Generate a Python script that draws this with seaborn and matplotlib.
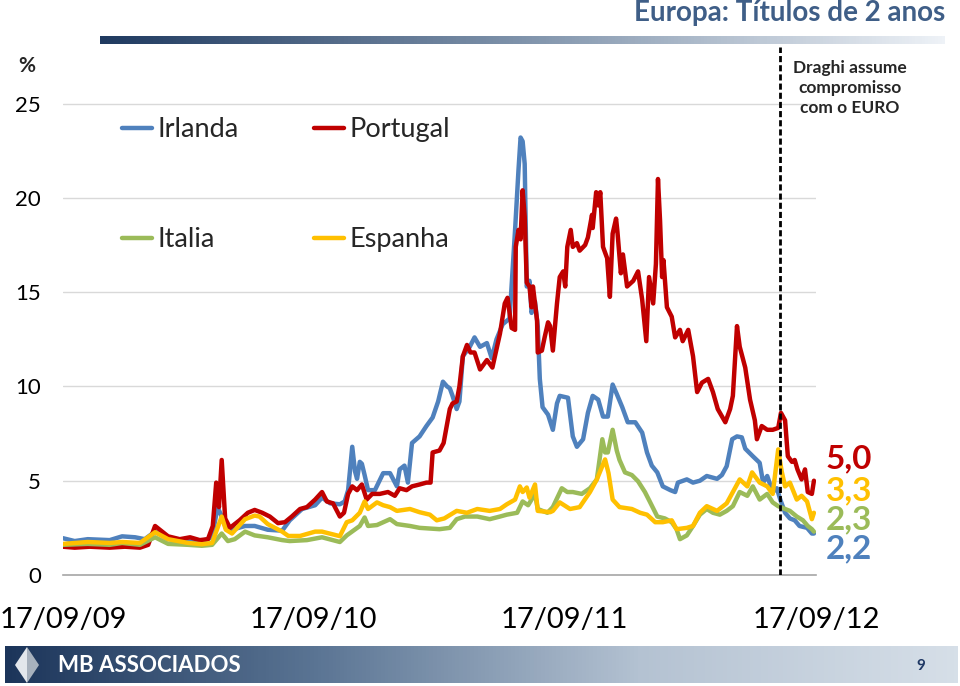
import numpy as np
import pandas as pd
import matplotlib.pyplot as plt
from matplotlib.colors import LinearSegmentedColormap
from matplotlib.lines import Line2D
from matplotlib.patches import Polygon
import seaborn as sns

# =========================
# Data (2-year yields, %)
# =========================
irlanda_dates = [
    "2009-09-17", "2009-10-04", "2009-10-23", "2009-11-24", "2009-12-12", "2009-12-31",
    "2010-01-14", "2010-01-29", "2010-02-17", "2010-03-18", "2010-04-04", "2010-04-22",
    "2010-04-30", "2010-05-06", "2010-05-12", "2010-05-21", "2010-06-09", "2010-06-23",
    "2010-07-12", "2010-08-02", "2010-08-13", "2010-08-31", "2010-09-19", "2010-09-29",
    "2010-10-11", "2010-10-25", "2010-11-01", "2010-11-06", "2010-11-12", "2010-11-16",
    "2010-11-19", "2010-11-23", "2010-11-26", "2010-11-30", "2010-12-05", "2010-12-15",
    "2010-12-27", "2011-01-06", "2011-01-16", "2011-01-20", "2011-01-27", "2011-02-01",
    "2011-02-07", "2011-02-18", "2011-02-28", "2011-03-09", "2011-03-17", "2011-03-24",
    "2011-03-30", "2011-04-03", "2011-04-07", "2011-04-13", "2011-04-17", "2011-04-22",
    "2011-05-02", "2011-05-09", "2011-05-17", "2011-05-27", "2011-06-03", "2011-06-10",
    "2011-06-19", "2011-06-29", "2011-07-07", "2011-07-12", "2011-07-15", "2011-07-18",
    "2011-07-21", "2011-07-24", "2011-07-28", "2011-07-31", "2011-08-05", "2011-08-09",
    "2011-08-12", "2011-08-16", "2011-08-24", "2011-08-31", "2011-09-06", "2011-09-10",
    "2011-09-22", "2011-09-29", "2011-10-05", "2011-10-14", "2011-10-21", "2011-10-28",
    "2011-11-05", "2011-11-12", "2011-11-19", "2011-11-26", "2011-12-02", "2011-12-10",
    "2011-12-18", "2011-12-29", "2012-01-08", "2012-01-15", "2012-01-22", "2012-01-30",
    "2012-02-07", "2012-02-18", "2012-02-25", "2012-02-29", "2012-03-13", "2012-03-22",
    "2012-04-01", "2012-04-11", "2012-04-26", "2012-05-03", "2012-05-10", "2012-05-18",
    "2012-05-25", "2012-06-01", "2012-06-06", "2012-06-17", "2012-06-27", "2012-07-02",
    "2012-07-08", "2012-07-16", "2012-07-22", "2012-07-27", "2012-08-03", "2012-08-10",
    "2012-08-17", "2012-08-24", "2012-09-04", "2012-09-11", "2012-09-14",
]
irlanda_vals = [
    1.95, 1.8, 1.9, 1.85, 2.05, 2.0,
    1.9, 2.3, 1.9, 1.8, 1.75, 2.0,
    3.6, 3.1, 2.5, 2.4, 2.6, 2.6,
    2.4, 2.35, 2.9, 3.5, 3.7, 4.1,
    3.8, 3.75, 3.9, 4.5, 6.8, 5.5,
    5.1, 6.0, 5.9, 5.3, 4.5, 4.5,
    5.4, 5.4, 4.7, 5.6, 5.8, 4.9,
    7.0, 7.35, 7.9, 8.35, 9.2, 10.25,
    10.0, 9.9, 9.5, 8.8, 9.2, 11.6,
    12.1, 12.6, 12.1, 12.3, 11.5, 12.5,
    13.3, 13.6, 18.3, 21.5, 23.2, 23.0,
    21.8, 15.3, 15.6, 13.9, 14.5, 13.2,
    10.4, 8.9, 8.5, 7.7, 9.1, 9.5,
    9.4, 7.35, 6.8, 7.2, 8.6, 9.5,
    9.3, 8.4, 8.4, 10.1, 9.6, 8.9,
    8.1, 8.1, 7.55, 6.5, 5.8, 5.44,
    4.7, 4.5, 4.4, 4.9, 5.07, 4.9,
    5.0, 5.25, 5.1, 5.3, 5.77, 7.2,
    7.35, 7.3, 6.7, 6.3, 5.95, 4.9,
    5.25, 4.4, 4.6, 4.0, 3.3, 3.0,
    2.9, 2.6, 2.5, 2.2, 2.2,
]

portugal_dates = [
    "2009-09-17", "2009-10-04", "2009-10-26", "2009-11-24", "2009-12-16", "2010-01-07",
    "2010-01-19", "2010-01-29", "2010-02-05", "2010-02-17", "2010-03-06", "2010-03-21",
    "2010-04-04", "2010-04-16", "2010-04-23", "2010-04-28", "2010-05-02", "2010-05-06",
    "2010-05-11", "2010-05-18", "2010-06-01", "2010-06-13", "2010-06-23", "2010-07-04",
    "2010-07-15", "2010-07-27", "2010-08-06", "2010-08-16", "2010-08-28", "2010-09-07",
    "2010-09-19", "2010-09-29", "2010-10-06", "2010-10-15", "2010-10-25", "2010-10-31",
    "2010-11-06", "2010-11-12", "2010-11-19", "2010-11-26", "2010-12-03", "2010-12-11",
    "2010-12-22", "2011-01-03", "2011-01-13", "2011-01-20", "2011-01-30", "2011-02-07",
    "2011-02-18", "2011-02-28", "2011-03-06", "2011-03-09", "2011-03-19", "2011-03-25",
    "2011-03-30", "2011-04-03", "2011-04-07", "2011-04-13", "2011-04-17", "2011-04-22",
    "2011-04-28", "2011-05-03", "2011-05-09", "2011-05-17", "2011-05-27", "2011-06-04",
    "2011-06-15", "2011-06-22", "2011-06-26", "2011-07-02", "2011-07-07", "2011-07-08",
    "2011-07-12", "2011-07-15", "2011-07-18", "2011-07-21", "2011-07-24", "2011-07-28",
    "2011-07-31", "2011-08-02", "2011-08-08", "2011-08-09", "2011-08-15", "2011-08-19",
    "2011-08-24", "2011-08-27", "2011-08-31", "2011-09-06", "2011-09-10", "2011-09-15",
    "2011-09-18", "2011-09-21", "2011-09-26", "2011-09-29", "2011-10-05", "2011-10-09",
    "2011-10-17", "2011-10-21", "2011-10-27", "2011-10-28", "2011-11-02", "2011-11-05",
    "2011-11-08", "2011-11-12", "2011-11-18", "2011-11-22", "2011-11-26", "2011-12-01",
    "2011-12-03", "2011-12-08", "2011-12-11", "2011-12-17", "2011-12-26", "2012-01-02",
    "2012-01-08", "2012-01-14", "2012-01-18", "2012-01-24", "2012-01-28", "2012-01-31",
    "2012-02-03", "2012-02-06", "2012-02-08", "2012-02-13", "2012-02-20", "2012-02-25",
    "2012-03-03", "2012-03-07", "2012-03-15", "2012-03-22", "2012-03-28", "2012-04-04",
    "2012-04-13", "2012-04-20", "2012-04-27", "2012-05-08", "2012-05-15", "2012-05-19",
    "2012-05-25", "2012-05-29", "2012-06-06", "2012-06-13", "2012-06-20", "2012-06-23",
    "2012-06-30", "2012-07-08", "2012-07-16", "2012-07-24", "2012-07-28", "2012-08-03",
    "2012-08-07", "2012-08-13", "2012-08-17", "2012-08-21", "2012-08-27", "2012-09-01",
    "2012-09-05", "2012-09-11", "2012-09-14",
]
portugal_vals = [
    1.5, 1.45, 1.5, 1.45, 1.5, 1.45,
    1.6, 2.6, 2.4, 2.05, 1.9, 2.0,
    1.85, 1.9, 2.6, 4.9, 3.6, 6.1,
    3.0, 2.5, 2.9, 3.3, 3.45, 3.3,
    3.1, 2.75, 2.8, 3.1, 3.5, 3.6,
    4.0, 4.4, 3.9, 3.8, 3.1, 3.3,
    4.3, 4.7, 4.5, 4.8, 4.0, 4.3,
    4.3, 4.4, 4.2, 4.6, 4.5, 4.7,
    4.8, 4.9, 4.9, 6.5, 6.6, 7.0,
    8.0, 8.8, 9.1, 9.2, 10.0, 11.6,
    12.2, 11.8, 11.8, 10.9, 11.4, 11.0,
    12.8, 14.4, 14.7, 13.1, 13.0, 17.4,
    18.3, 17.8, 20.4, 19.0, 15.5, 15.3,
    14.2, 15.3, 13.5, 11.8, 11.9, 12.6,
    13.4, 13.2, 11.9, 14.4, 15.8, 16.1,
    15.3, 17.4, 18.3, 17.4, 17.6, 17.2,
    17.5, 17.9, 19.1, 18.4, 20.3, 19.6,
    20.3, 17.4, 16.8, 14.75, 18.1, 18.9,
    18.2, 16.0, 17.0, 15.3, 15.6, 16.1,
    14.6, 12.4, 15.8, 14.4, 16.5, 21.0,
    18.8, 15.8, 16.7, 14.2, 13.7, 12.6,
    13.0, 12.4, 13.0, 11.6, 9.7, 10.2,
    10.4, 9.7, 8.8, 8.1, 8.8, 9.5,
    13.2, 12.1, 11.0, 9.3, 8.2, 7.2,
    7.9, 7.7, 7.7, 7.8, 8.6, 8.2,
    6.3, 6.0, 6.1, 5.6, 5.07, 5.6,
    4.4, 4.3, 5.0,
]

italia_dates = [
    "2009-09-17", "2009-10-23", "2009-11-24", "2009-12-12", "2010-01-07", "2010-01-29",
    "2010-02-17", "2010-03-18", "2010-04-07", "2010-04-22", "2010-05-06", "2010-05-15",
    "2010-05-25", "2010-06-09", "2010-06-23", "2010-07-12", "2010-08-02", "2010-08-13",
    "2010-09-07", "2010-09-29", "2010-10-25", "2010-11-04", "2010-11-23", "2010-11-30",
    "2010-12-05", "2010-12-18", "2011-01-06", "2011-01-16", "2011-02-04", "2011-02-18",
    "2011-03-19", "2011-04-03", "2011-04-13", "2011-04-25", "2011-05-13", "2011-05-31",
    "2011-06-15", "2011-06-25", "2011-07-10", "2011-07-18", "2011-07-26", "2011-08-05",
    "2011-08-09", "2011-08-23", "2011-08-31", "2011-09-13", "2011-09-21", "2011-09-29",
    "2011-10-12", "2011-10-24", "2011-11-03", "2011-11-11", "2011-11-15", "2011-11-19",
    "2011-11-26", "2011-12-02", "2011-12-06", "2011-12-14", "2011-12-24", "2012-01-02",
    "2012-01-12", "2012-01-19", "2012-01-30", "2012-02-10", "2012-02-20", "2012-02-27",
    "2012-03-03", "2012-03-13", "2012-03-22", "2012-04-01", "2012-04-11", "2012-04-20",
    "2012-04-30", "2012-05-10", "2012-05-19", "2012-05-29", "2012-06-09", "2012-06-17",
    "2012-06-27", "2012-07-08", "2012-07-16", "2012-07-24", "2012-08-03", "2012-08-10",
    "2012-08-20", "2012-08-29", "2012-09-05", "2012-09-11", "2012-09-14",
]
italia_vals = [
    1.6, 1.65, 1.6, 1.7, 1.6, 2.0,
    1.65, 1.6, 1.55, 1.6, 2.2, 1.8,
    1.9, 2.3, 2.1, 2.0, 1.85, 1.8,
    1.85, 2.0, 1.75, 2.1, 2.6, 3.05,
    2.6, 2.65, 2.96, 2.7, 2.6, 2.5,
    2.43, 2.5, 2.96, 3.1, 3.1, 2.96,
    3.1, 3.2, 3.3, 3.9, 3.7, 4.3,
    3.5, 3.3, 3.6, 4.6, 4.4, 4.4,
    4.3, 4.6, 5.07, 7.2, 6.5, 6.5,
    7.7, 6.6, 6.1, 5.44, 5.3, 4.97,
    4.4, 3.9, 3.1, 3.0, 2.8, 2.43,
    1.9, 2.1, 2.6, 3.2, 3.5, 3.3,
    3.2, 3.4, 3.65, 4.4, 4.2, 4.7,
    4.0, 4.3, 3.85, 3.65, 3.5, 3.4,
    3.1, 2.9, 2.6, 2.43, 2.3,
]

espanha_dates = [
    "2009-09-17", "2009-10-23", "2009-11-24", "2009-12-12", "2010-01-07", "2010-01-29",
    "2010-02-17", "2010-03-18", "2010-04-07", "2010-04-22", "2010-04-30", "2010-05-06",
    "2010-05-12", "2010-05-21", "2010-06-09", "2010-06-23", "2010-06-30", "2010-07-12",
    "2010-08-02", "2010-08-11", "2010-08-28", "2010-09-19", "2010-09-29", "2010-10-25",
    "2010-11-04", "2010-11-12", "2010-11-23", "2010-11-30", "2010-12-05", "2010-12-18",
    "2010-12-27", "2011-01-06", "2011-01-16", "2011-02-04", "2011-02-18", "2011-03-05",
    "2011-03-15", "2011-03-26", "2011-04-13", "2011-04-28", "2011-05-13", "2011-05-31",
    "2011-06-15", "2011-06-25", "2011-07-07", "2011-07-14", "2011-07-18", "2011-07-24",
    "2011-07-28", "2011-08-05", "2011-08-09", "2011-08-27", "2011-08-31", "2011-09-10",
    "2011-09-25", "2011-10-09", "2011-10-24", "2011-11-03", "2011-11-15", "2011-11-20",
    "2011-11-26", "2011-12-06", "2011-12-24", "2012-01-05", "2012-01-15", "2012-01-27",
    "2012-02-07", "2012-02-20", "2012-02-27", "2012-03-13", "2012-03-22", "2012-04-01",
    "2012-04-11", "2012-04-26", "2012-05-10", "2012-05-19", "2012-05-29", "2012-06-09",
    "2012-06-16", "2012-06-27", "2012-07-08", "2012-07-16", "2012-07-24", "2012-07-29",
    "2012-08-03", "2012-08-10", "2012-08-20", "2012-08-27", "2012-09-04", "2012-09-11",
    "2012-09-14",
]
espanha_vals = [
    1.65, 1.75, 1.7, 1.75, 1.7, 2.27,
    1.9, 1.7, 1.63, 1.7, 2.5, 3.1,
    2.4, 2.2, 2.96, 3.15, 3.1, 2.7,
    2.3, 2.07, 2.07, 2.3, 2.3, 2.06,
    2.8, 2.9, 3.3, 3.9, 3.5, 3.85,
    3.7, 3.6, 3.4, 3.5, 3.33, 3.2,
    2.9, 3.0, 3.4, 3.3, 3.5, 3.4,
    3.5, 3.75, 4.0, 4.7, 4.4, 4.64,
    4.1, 4.8, 3.4, 3.33, 3.4, 3.85,
    3.5, 3.6, 4.4, 5.07, 6.13, 5.4,
    4.0, 3.6, 3.5, 3.3, 3.2, 2.8,
    2.8, 2.9, 2.43, 2.5, 2.6, 3.3,
    3.65, 3.4, 3.8, 4.4, 5.07, 4.7,
    5.44, 4.9, 4.7, 4.3, 6.66, 5.5,
    4.7, 4.9, 4.0, 4.2, 3.9, 2.96,
    3.3,
]

paises = ["Irlanda", "Portugal", "Italia", "Espanha"]
cores = ["#4F81BD", "#C00000", "#9BBB59", "#FFC000"]
x_ticks = ["2009-09-17", "2010-09-17", "2011-09-17", "2012-09-17"]
x_labels = ["17/09/09", "17/09/10", "17/09/11", "17/09/12"]
y_ticks = [0, 5, 10, 15, 20, 25]
draghi_date = "2012-07-26"

# =========================
# Long table for seaborn
# =========================
series = {
    "Irlanda": (irlanda_dates, irlanda_vals),
    "Portugal": (portugal_dates, portugal_vals),
    "Italia": (italia_dates, italia_vals),
    "Espanha": (espanha_dates, espanha_vals),
}
frames = []
for nome, (d, v) in series.items():
    frames.append(pd.DataFrame({"data": pd.to_datetime(d), "taxa": v, "pais": nome}))
df = pd.concat(frames, ignore_index=True)

sns.set_style("white")
plt.rcParams["font.family"] = ["Lato", "DejaVu Sans"]

W, H = 960, 686


def fx(px):
    return px / W


def fy(py):
    return 1 - py / H


fig = plt.figure(figsize=(9.6, 6.86), dpi=100)
ax = fig.add_axes([fx(63), fy(575), 753 / W, 528 / H])

sns.lineplot(
    data=df, x="data", y="taxa", hue="pais", hue_order=paises,
    palette=dict(zip(paises, cores)), linewidth=3.2, estimator=None,
    legend=False, ax=ax,
)

ax.set_xlim(pd.Timestamp(x_ticks[0]), pd.Timestamp(x_ticks[-1]))
ax.set_ylim(0, 28)
ax.set_yticks(y_ticks)
ax.set_yticklabels([str(t) for t in y_ticks])
ax.set_xticks(pd.to_datetime(x_ticks))
ax.set_xticklabels(x_labels)
ax.set_xlabel("")
ax.set_ylabel("")

for t in y_ticks[1:]:
    ax.axhline(t, color="#D9D9D9", linewidth=1, zorder=0)

for s in ["left", "right", "top"]:
    ax.spines[s].set_visible(False)
ax.spines["bottom"].set_color("#A6A6A6")
ax.spines["bottom"].set_linewidth(1.2)
ax.tick_params(axis="x", length=6, width=1.2, color="#A6A6A6", pad=17,
               labelsize=21, labelcolor="black")
ax.tick_params(axis="y", length=0, pad=16, labelsize=16, labelcolor="black")

# Draghi line
ax.axvline(pd.Timestamp(draghi_date), color="black", linewidth=2,
           linestyle=(0, (2.2, 1.1)), zorder=5)
fig.text(fx(850), fy(88), "Draghi assume\ncompromisso\ncom o EURO",
         ha="center", va="center", fontsize=12.5, fontweight="bold",
         linespacing=1.3)

fig.text(fx(27), fy(66), "%", ha="center", va="center", fontsize=15,
         fontweight="bold")

# Legend (2 x 2)
handles = {p: Line2D([], [], color=c, linewidth=3.2) for p, c in zip(paises, cores)}
ordem = ["Irlanda", "Italia", "Portugal", "Espanha"]
fig.legend(
    [handles[p] for p in ordem], ordem, ncol=2, frameon=False,
    loc="upper left", bbox_to_anchor=(fx(122), fy(117)),
    bbox_transform=fig.transFigure, borderpad=0, borderaxespad=0,
    fontsize=19.5, handlelength=1.1, handletextpad=0.2,
    columnspacing=2.8, labelspacing=3.15,
)

# End values
for (nome, (d, v)), ypx in zip(
    [("Portugal", series["Portugal"]), ("Espanha", series["Espanha"]),
     ("Italia", series["Italia"]), ("Irlanda", series["Irlanda"])],
    [459, 491, 520, 549],
):
    cor = cores[paises.index(nome)]
    fig.text(fx(826), fy(ypx), f"{v[-1]:.1f}".replace(".", ","), color=cor,
             ha="left", va="center", fontsize=24, fontweight="bold")

# Title and decoration
fig.text(fx(945), fy(13), "Europa: Títulos de 2 anos", ha="right", va="center",
         fontsize=20, fontweight="bold", color="#3F5E87")


def faixa(rect, cols):
    a = fig.add_axes(rect)
    cmap = LinearSegmentedColormap.from_list("faixa", cols)
    a.imshow(np.linspace(0, 1, 256)[None, :], aspect="auto", cmap=cmap,
             extent=[0, 1, 0, 1])
    a.axis("off")
    return a


faixa([fx(100), fy(44), 845 / W, 8 / H], ["#1F3A60", "#7F93AB", "#EEF2F7"])
faixa([fx(5), fy(683), 953 / W, 37 / H], ["#1C355A", "#5C7695", "#B4C2D2", "#D6DFE8"])

fig.patches.append(Polygon(
    [(fx(27), fy(647)), (fx(15), fy(665)), (fx(27), fy(683))],
    closed=True, transform=fig.transFigure, facecolor="#E3E7EC", edgecolor="none"))
fig.patches.append(Polygon(
    [(fx(27), fy(647)), (fx(39), fy(665)), (fx(27), fy(683))],
    closed=True, transform=fig.transFigure, facecolor="#A7B1BD", edgecolor="none"))

fig.text(fx(58), fy(665), "MB ASSOCIADOS", ha="left", va="center",
         fontsize=16, fontweight="bold", color="white")
fig.text(fx(921), fy(666), "9", ha="center", va="center",
         fontsize=11, fontweight="bold", color="#1F3864")

fig.savefig("out.png", dpi=100)
